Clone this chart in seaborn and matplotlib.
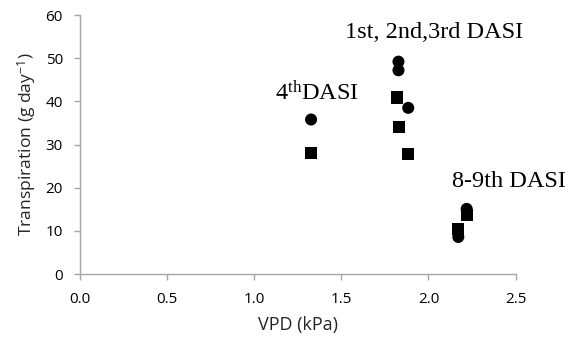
import matplotlib
matplotlib.use("Agg")
import matplotlib.pyplot as plt
import seaborn as sns
import pandas as pd

# data
circle_x = [1.327, 1.828, 1.828, 1.884, 2.171, 2.219]
circle_y = [35.8, 49.2, 47.2, 38.5, 8.6, 15.1]
square_x = [1.327, 1.822, 1.833, 1.884, 2.171, 2.219]
square_y = [28.1, 40.9, 34.1, 27.9, 10.4, 13.7]
x_ticks = [0.0, 0.5, 1.0, 1.5, 2.0, 2.5]
y_ticks = [0, 10, 20, 30, 40, 50, 60]
annotations = ["1st, 2nd,3rd DASI", "4$^{\\rm th}$DASI", "8-9th DASI"]
ann_x = [2.032, 1.363, 2.461]
ann_y = [54.6, 40.3, 20.2]

df = pd.DataFrame({
    "x": circle_x + square_x,
    "y": circle_y + square_y,
    "kind": ["circle"] * len(circle_x) + ["square"] * len(square_x),
})

sns.set_theme(style="white")
plt.rcParams["font.family"] = ["Open Sans", "DejaVu Sans"]
plt.rcParams["mathtext.fontset"] = "custom"
plt.rcParams["mathtext.rm"] = "Liberation Serif"
plt.rcParams["mathtext.it"] = "Liberation Serif:italic"
plt.rcParams["mathtext.sf"] = "Open Sans"

fig = plt.figure(figsize=(5.72, 3.38), dpi=100)
ax = fig.add_axes([0.139, 0.189, 0.7626, 0.7666])

sns.scatterplot(data=df, x="x", y="y", style="kind", markers={"circle": "o", "square": "s"},
                color="black", s=75, edgecolor="none", legend=False, ax=ax, zorder=3)

ax.set_xlim(0, 2.5)
ax.set_ylim(0, 60)
ax.set_xticks(x_ticks)
ax.set_xticklabels([f"{v:.1f}" for v in x_ticks])
ax.set_yticks(y_ticks)
ax.set_yticklabels([str(v) for v in y_ticks])
ax.tick_params(axis="both", which="both", direction="out", length=4, width=1,
               color="#a6a6a6", labelsize=11, labelcolor="black", bottom=True, left=True)
ax.tick_params(axis="x", pad=9)
ax.tick_params(axis="y", pad=8)
for side in ["top", "right"]:
    ax.spines[side].set_visible(False)
for side in ["left", "bottom"]:
    ax.spines[side].set_color("#a6a6a6")
    ax.spines[side].set_linewidth(1)

ax.set_xlabel("VPD (kPa)", fontsize=13, labelpad=6)
ax.set_ylabel("Transpiration (g day$^{\\mathsf{-1}}$)", fontsize=12.6, labelpad=5)

for t, xx, yy in zip(annotations, ann_x, ann_y):
    ax.text(xx, yy, t, fontsize=17.5, family="Liberation Serif", ha="center", va="baseline",
            color="black", clip_on=False)

fig.savefig("out.png", dpi=100, facecolor="white")
